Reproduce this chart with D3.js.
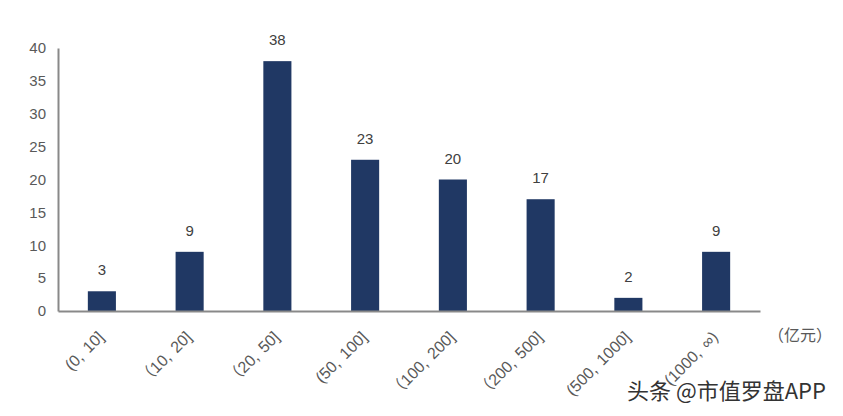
<!DOCTYPE html>
<html>
<head>
<meta charset="utf-8">
<script src="https://cdn.jsdelivr.net/npm/d3@7"></script>
<style>
  body { margin: 0; background: #fff; }
  text { font-family: "Liberation Sans", Arial, "Noto Sans CJK SC", sans-serif; }
</style>
</head>
<body>
<script>
// categories and values
var categories = ["(0, 10]", "（10, 20]", "（20, 50]", "(50, 100]", "（100, 200]", "（200, 500]", "(500, 1000]", "(1000, ∞)"];
var counts = [3, 9, 38, 23, 20, 17, 2, 9];
var yTicks = [0, 5, 10, 15, 20, 25, 30, 35, 40];

var width = 843, height = 416;
var plotLeft = 58, plotRight = 760, plotTop = 48, plotBottom = 311;
var barColor = '#203864';

var svg = d3.select("body").append("svg")
  .attr("width", width)
  .attr("height", height);

var x = d3.scaleBand()
  .domain(categories)
  .range([plotLeft, plotRight])
  .paddingInner(0.68)
  .paddingOuter(0.34);

var y = d3.scaleLinear()
  .domain([0, 40])
  .range([plotBottom, plotTop]);

// y axis
var yAxis = svg.append("g")
  .attr("transform", "translate(" + plotLeft + ",0)")
  .call(d3.axisLeft(y).tickValues(yTicks).tickSize(0).tickPadding(12));
yAxis.select(".domain").attr("stroke", "#898989").attr("stroke-width", 2);
yAxis.selectAll("text")
  .attr("fill", "#595959")
  .style("font-size", "15px");

// bars
svg.selectAll("rect.bar")
  .data(counts)
  .enter()
  .append("rect")
  .attr("class", "bar")
  .attr("x", function(d, i) { return x(categories[i]); })
  .attr("y", function(d) { return y(d); })
  .attr("width", x.bandwidth())
  .attr("height", function(d) { return y(0) - y(d); })
  .attr("fill", barColor);

// value labels
svg.selectAll("text.val")
  .data(counts)
  .enter()
  .append("text")
  .attr("class", "val")
  .attr("x", function(d, i) { return x(categories[i]) + x.bandwidth() / 2; })
  .attr("y", function(d) { return y(d) - 16; })
  .attr("text-anchor", "middle")
  .attr("fill", "#404040")
  .style("font-size", "15px")
  .text(function(d) { return d; });

// x axis
var xAxis = svg.append("g")
  .attr("transform", "translate(0," + plotBottom + ")")
  .call(d3.axisBottom(x).tickSize(0).tickPadding(0));
xAxis.select(".domain").attr("stroke", "#898989").attr("stroke-width", 2);
xAxis.selectAll("text")
  .attr("fill", "#595959")
  .style("font-size", "16px")
  .style("word-spacing", "2px")
  .attr("text-anchor", "end")
  .attr("dy", 0)
  .attr("transform", "translate(3,27) rotate(-45)");

// unit
svg.append("text")
  .attr("x", 768)
  .attr("y", 341)
  .attr("fill", "#595959")
  .style("font-size", "16px")
  .text("（亿元）");

// watermark
svg.append("text")
  .attr("x", 627)
  .attr("y", 399)
  .attr("fill", "#333")
  .attr("stroke", "#fff")
  .attr("stroke-width", 3)
  .attr("paint-order", "stroke")
  .style("font-size", "22px")
  .style("font-family", "'Noto Sans CJK SC', sans-serif")
  .text("头条 @市值罗盘APP");
</script>
</body>
</html>
